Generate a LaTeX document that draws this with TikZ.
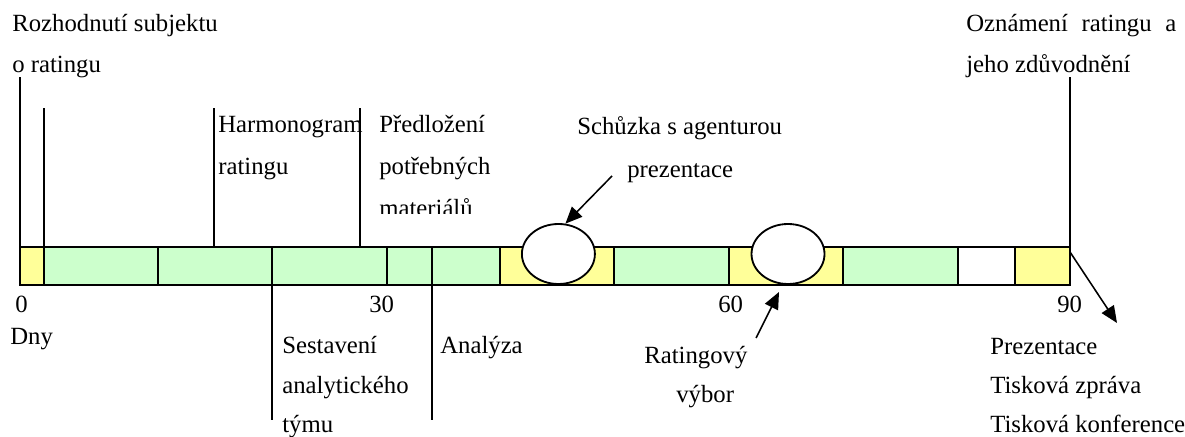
\documentclass[tikz,border=0pt]{standalone}
\usepackage{fontspec}
\setmainfont{Liberation Serif}
\usepackage{tikz}
\usetikzlibrary{positioning, arrows.meta, shapes.geometric}
\definecolor{ryellow}{HTML}{FFFF99}
\definecolor{rgreen}{HTML}{CCFFCC}

\begin{document}
\begin{tikzpicture}[font=\fontsize{17.6}{21}\selectfont,
  lbl/.style={anchor=base west, inner sep=0pt},
  seg/.style={draw, line width=1.4pt},
  vline/.style={line width=1.2pt},
  meet/.style={draw, ellipse, fill=white, line width=1.3pt, minimum width=1.825cm, minimum height=1.5cm, inner sep=0pt},
  arr/.style={-{Triangle[length=0.42cm, width=0.36cm]}, line width=1.1pt}]
  \useasboundingbox (0,0) rectangle (29.625,-10.925);

  % Bar of days
  \foreach \a/\b/\c in {0.5/1.1/ryellow, 1.1/3.95/rgreen, 3.95/6.8/rgreen, 6.8/9.675/rgreen,
      9.675/10.8/rgreen, 10.8/12.5/rgreen, 12.5/15.35/ryellow, 15.35/18.225/rgreen,
      18.225/21.075/ryellow, 21.075/23.95/rgreen, 23.95/25.375/white, 25.375/26.75/ryellow}
    \draw[seg, fill=\c] (\a,-6.175) rectangle (\b,-7.125);

  % Meetings
  \node[meet] (e1) at (13.96,-6.35) {};
  \node[meet] (e2) at (19.7,-6.35) {};

  % Marks above the bar
  \draw[vline] (0.5,-6.175) -- (0.5,-1.925);
  \draw[vline] (1.1,-6.175) -- (1.1,-2.7);
  \draw[vline] (5.35,-6.175) -- (5.35,-2.7);
  \draw[vline] (9.0,-6.175) -- (9.0,-2.7);
  \draw[vline] (26.75,-6.175) -- (26.75,-1.925);

  % Marks below the bar
  \draw[vline] (6.8,-7.125) -- (6.8,-10.5);
  \draw[vline] (10.8,-7.125) -- (10.8,-10.5);

  % Texts above
  \node[lbl] (roz1) at (0.3,-0.8) {Rozhodnutí subjektu};
  \node[lbl] (roz2) at (0.3,-1.825) {o ratingu};
  \node[lbl] (ozn1) at (24.15,-0.8) {Oznámení\hspace{0.55em}ratingu\hspace{0.55em}a};
  \node[lbl] (ozn2) at (24.15,-1.825) {jeho zdůvodnění};
  \node[lbl] (har1) at (5.45,-3.325) {Harmonogram};
  \node[lbl] (har2) at (5.45,-4.375) {ratingu};
  \node[lbl] (pre1) at (9.475,-3.325) {Předložení};
  \node[lbl] (pre2) at (9.475,-4.375) {potřebných};
  \begin{scope}
    \clip (9.2,-4.7) rectangle (12.4,-5.35);
    \node[lbl] (pre3) at (9.475,-5.425) {materiálů};
  \end{scope}
  \node[lbl] (sch1) at (14.425,-3.375) {Schůzka s agenturou};
  \node[lbl] (sch2) at (15.675,-4.45) {prezentace};

  % Days
  \node[lbl] (d0) at (0.375,-7.825) {0};
  \node[lbl] (d30) at (9.225,-7.825) {30};
  \node[lbl] (d60) at (17.95,-7.825) {60};
  \node[lbl] (d90) at (26.425,-7.825) {90};
  \node[lbl] (dny) at (0.25,-8.625) {Dny};

  % Texts below
  \node[lbl] (ses1) at (7.05,-8.85) {Sestavení};
  \node[lbl] (ses2) at (7.05,-9.85) {analytického};
  \node[lbl] (ses3) at (7.05,-10.8) {týmu};
  \node[lbl] (ana) at (11.0,-8.85) {Analýza};
  \node[lbl] (rv1) at (16.1,-9.1) {Ratingový};
  \node[lbl] (rv2) at (16.9,-10.05) {výbor};
  \node[lbl] (pz1) at (24.75,-8.875) {Prezentace};
  \node[lbl] (pz2) at (24.75,-9.85) {Tisková zpráva};
  \node[lbl] (pz3) at (24.75,-10.8) {Tisková konference};

  % Arrows
  \coordinate (schfoot) at (15.3,-4.4);
  \coordinate (rvfoot) at (18.9,-8.45);
  \coordinate (rvtip) at (19.475,-7.3);
  \coordinate (barend) at (26.75,-6.3);
  \coordinate (pztip) at (27.925,-8.075);
  \draw[arr] (schfoot) -- (e1.77);
  \draw[arr] (rvfoot) -- (rvtip);
  \draw[arr] (barend) -- (pztip);
\end{tikzpicture}
\end{document}
